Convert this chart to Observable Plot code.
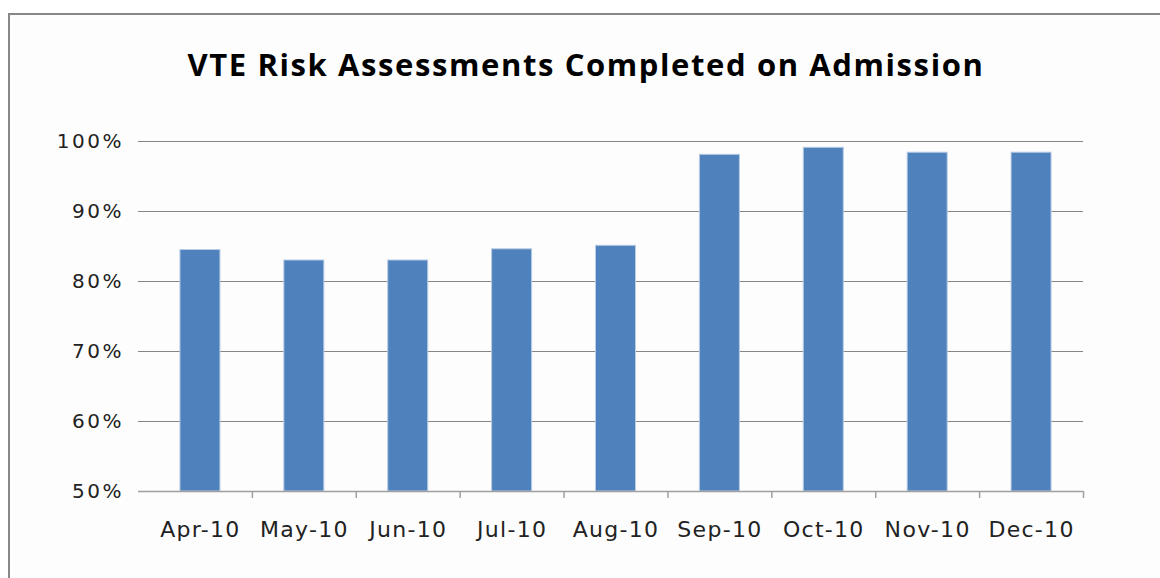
<!DOCTYPE html>
<html>
<head>
<meta charset="utf-8">
<script src="https://cdn.jsdelivr.net/npm/d3@7"></script>
<script src="https://cdn.jsdelivr.net/npm/@observablehq/plot@0.6"></script>
<style>
  html, body { margin: 0; padding: 0; background: #ffffff; width: 1160px; height: 578px; overflow: hidden; }
  #frame { position: absolute; left: 8px; top: 13px; width: 1200px; height: 600px; border-left: 2px solid #878787; border-top: 2px solid #878787; background: #fdfdfd; }
  #title { position: absolute; left: 586px; top: 44px; transform: translateX(-50%); white-space: nowrap; font-family: "Open Sans", sans-serif; font-weight: 700; font-size: 31px; letter-spacing: 1.6px; color: #000; line-height: 40px; }
  #chart { position: absolute; left: 0; top: 0; }
  #chart g[aria-label="y-axis tick label"] text { letter-spacing: 2.5px; }
  #chart g[aria-label="x-axis tick label"] text { letter-spacing: 1.3px; }
</style>
</head>
<body>
<div id="frame"></div>
<div id="title">VTE Risk Assessments Completed on Admission</div>
<div id="chart"></div>
<script>
const months = ["Apr-10", "May-10", "Jun-10", "Jul-10", "Aug-10", "Sep-10", "Oct-10", "Nov-10", "Dec-10"];
const values = [84.5, 83.0, 83.0, 84.6, 85.1, 98.1, 99.1, 98.4, 98.4];
const yTicks = [50, 60, 70, 80, 90, 100];

const data = months.map((m, i) => ({month: m, value: values[i]}));

const xRange = [148, 1083];
const pIn = 0.615, pOut = 0.3075;
const step = (xRange[1] - xRange[0]) / (months.length - pIn + 2 * pOut);

const chart = Plot.plot({
  width: 1160,
  height: 578,
  marginTop: 141,
  marginBottom: 87,
  marginLeft: 138,
  marginRight: 77,
  style: {background: "transparent", overflow: "visible"},
  x: {domain: months, range: xRange, paddingInner: pIn, paddingOuter: pOut, round: false, label: null},
  y: {domain: [50, 100], label: null},
  marks: [
    Plot.ruleY(yTicks.filter(d => d > 50), {stroke: "#868686", strokeWidth: 1.2}),
    Plot.barY(data, {x: "month", y1: 50, y2: "value", fill: "#4f81bd", stroke: "#b8cce4", strokeWidth: 1, insetLeft: 0, insetRight: 0}),
    Plot.ruleY([50], {stroke: "#a0a0a0", strokeWidth: 1.5}),
    Plot.ruleX(months, {x: d => d, dx: step / 2, y1: 50, y2: 49, stroke: "#a0a0a0", strokeWidth: 1.5}),
    Plot.axisY({ticks: yTicks, tickFormat: d => d + "%", tickSize: 0, tickPadding: 14.5, fontSize: 20, fontFamily: "DejaVu Sans", fill: "#222"}),
    Plot.axisX({tickSize: 0, tickPadding: 30, fontSize: 22, fontFamily: "DejaVu Sans", fill: "#222"})
  ]
});
document.getElementById("chart").appendChild(chart);
</script>
</body>
</html>
